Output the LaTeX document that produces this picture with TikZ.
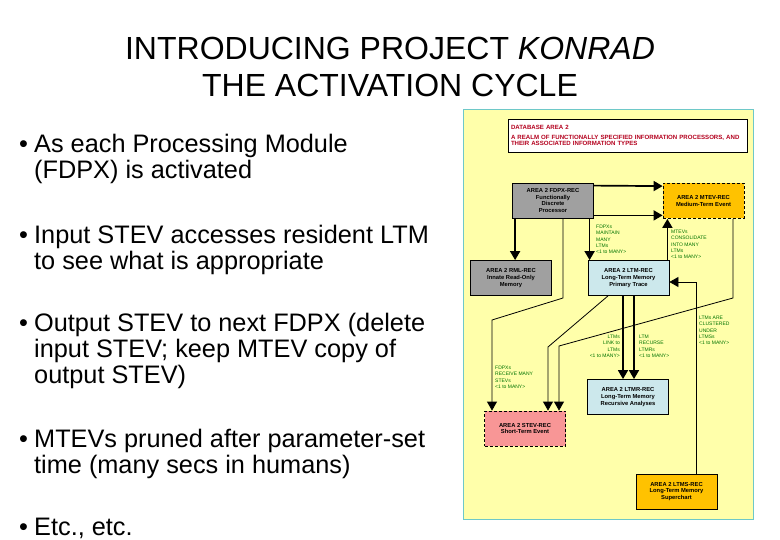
\documentclass[tikz,border=0pt]{standalone}
\usepackage{fontspec}
\setmainfont{Liberation Sans}
\usetikzlibrary{arrows.meta}
\definecolor{panelyellow}{RGB}{255,255,170}
\definecolor{panelteal}{RGB}{110,200,200}
\definecolor{recgray}{RGB}{160,160,160}
\definecolor{recorange}{RGB}{255,194,0}
\definecolor{recblue}{RGB}{204,232,236}
\definecolor{recpink}{RGB}{248,150,150}
\definecolor{labgreen}{RGB}{0,115,0}
\definecolor{headred}{RGB}{180,0,30}
\begin{document}
\begin{tikzpicture}[x=1pt,y=-1pt,
  rec/.style={draw,line width=0.8pt,minimum width=81pt,minimum height=35pt,align=center,inner sep=1pt,font=\fontsize{5.8}{6.9}\selectfont\bfseries},
  dashrec/.style={rec,dash pattern=on 3pt off 2pt},
  link/.style={line width=1.7pt,-{Triangle[length=9pt,width=10pt]}},
  thinlink/.style={line width=0.8pt,-{Triangle[length=9pt,width=10pt]}},
  rel/.style={anchor=north west,align=left,text=labgreen,inner sep=0pt,font=\fontsize{5}{6.2}\selectfont},
  bul/.style={anchor=base west,align=left,inner sep=0pt,font=\fontsize{25.3}{26}\selectfont}]
\useasboundingbox (0,0) rectangle (780,540);
% title
\node[anchor=base,font=\fontsize{32}{37}\selectfont] (title1) at (390,60) {INTRODUCING PROJECT \textit{KONRAD}};
\node[anchor=base,font=\fontsize{32}{37}\selectfont] (title2) at (390,97) {THE ACTIVATION CYCLE};
% bullets (base of a node = base of its last line)
\node[bul] (dot1) at (19,153) {•};
\node[bul] (item1) at (34,179) {As each Processing Module\\(FDPX) is activated};
\node[bul] (dot2) at (19,244) {•};
\node[bul] (item2) at (34,270) {Input STEV accesses resident LTM\\to see what is appropriate};
\node[bul] (dot3) at (19,332) {•};
\node[bul] (item3) at (34,384) {Output STEV to next FDPX (delete\\input STEV; keep MTEV copy of\\output STEV)};
\node[bul] (dot4) at (19,447) {•};
\node[bul] (item4) at (34,473) {MTEVs pruned after parameter-set\\time (many secs in humans)};
\node[bul] (dot5) at (19,535) {•};
\node[bul] (item5) at (34,535) {Etc., etc.};
% database panel
\filldraw[fill=panelyellow,draw=panelteal,line width=1pt] (463,110) rectangle (753,519);
\node[draw,fill=white,line width=0.8pt,minimum width=239pt,minimum height=33pt,text width=233pt,align=left,inner sep=3pt,text=headred,font=\fontsize{6.1}{6.9}\selectfont\bfseries] (dbhead) at (627.5,135.5)
  {DATABASE AREA 2\\[3pt]A REALM OF FUNCTIONALLY SPECIFIED INFORMATION PROCESSORS, AND\\THEIR ASSOCIATED INFORMATION TYPES};
% records
\node[rec,fill=recgray] (fdpx) at (553,200.5) {AREA 2 FDPX-REC\\Functionally\\Discrete\\Processor};
\node[dashrec,fill=recorange] (mtev) at (703.5,201) {AREA 2 MTEV-REC\\Medium-Term Event};
\node[rec,fill=recgray] (rml) at (511,278) {AREA 2 RML-REC\\Innate Read-Only\\Memory};
\node[rec,fill=recblue] (ltm) at (628.5,278) {AREA 2 LTM-REC\\Long-Term Memory\\Primary Trace};
\node[rec,fill=recblue] (ltmr) at (628,397) {AREA 2 LTMR-REC\\Long-Term Memory\\Recursive Analyses};
\node[dashrec,fill=recpink] (stev) at (525,428.5) {AREA 2 STEV-REC\\Short-Term Event};
\node[rec,fill=recorange] (ltms) at (676.5,491.5) {AREA 2 LTMS-REC\\Long-Term Memory\\Superchart};
% bends
\coordinate (fdpxbend) at (563,298);
\coordinate (fdpxdrop) at (492,320);
\coordinate (ltmdrop) at (548,347);
\coordinate (mtevbend) at (733,298);
\coordinate (mtevdrop) at (559,346);
% links
\draw[link] ([yshift=-3pt]fdpx.north east) -- ([yshift=-3pt]mtev.north west);
\draw[link] ([yshift=3pt]fdpx.south east) -- ([yshift=3pt]fdpx.south east -| mtev.west);
\draw[link] ([xshift=3pt]fdpx.south west) -- ([xshift=3pt]fdpx.south west |- rml.north);
\draw[link] ([xshift=2pt]ltm.north west |- fdpx.south) -- ([xshift=2pt]ltm.north west);
\draw[link] ([xshift=-2pt]ltm.north east) -- ([xshift=-2pt]ltm.north east |- mtev.south);
\draw[link] ([xshift=-5.5pt]ltm.south) -- ([xshift=-5.5pt]ltm.south |- ltmr.north);
\draw[link] ([xshift=5.5pt]ltm.south) -- ([xshift=5.5pt]ltm.south |- ltmr.north);
\draw[thinlink] ([xshift=19.5pt]ltms.north) |- ([yshift=-4pt]ltm.east);
\draw[thinlink] (fdpxbend |- fdpx.south) -- (fdpxbend) -- (fdpxdrop) -- (fdpxdrop |- stev.north);
\draw[thinlink] ([xshift=-20.5pt]ltm.south) -- (ltmdrop) -- (ltmdrop |- stev.north);
\draw[thinlink] (mtevbend |- mtev.south) -- (mtevbend) -- (mtevdrop) -- (mtevdrop |- stev.north);
% relation labels
\node[rel] (relmaintain) at (596,225) {FDPXs\\MAINTAIN\\MANY\\LTMs\\<1 to MANY>};
\node[rel] (relconsol) at (671,230) {MTEVs\\CONSOLIDATE\\INTO MANY\\LTMs\\<1 to MANY>};
\node[rel] (relreceive) at (495,366) {FDPXs\\RECEIVE MANY\\STEVs\\<1 to MANY>};
\node[rel,anchor=north east,align=right] (rellink) at (620,335) {LTMs\\LINK to\\LTMs\\<1 to MANY>};
\node[rel] (relrecurse) at (639,335) {LTM\\RECURSE\\LTMRs\\<1 to MANY>};
\node[rel] (relcluster) at (699,316) {LTMs ARE\\CLUSTERED\\UNDER\\LTMSs\\<1 to MANY>};
\end{tikzpicture}
\end{document}
